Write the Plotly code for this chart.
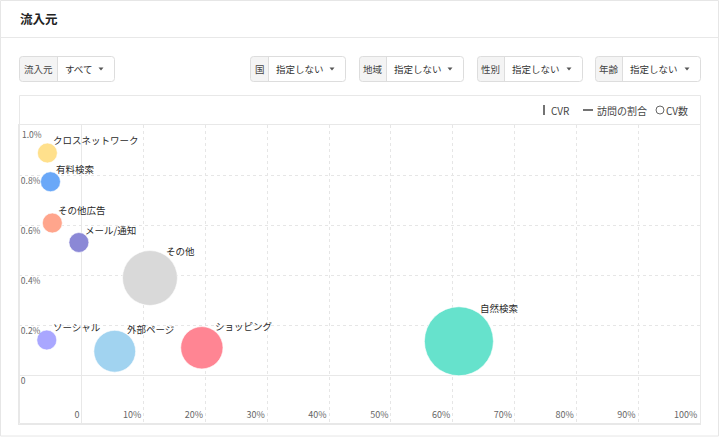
import plotly.graph_objects as go
import math

# ---- data ----
sources = ["クロスネットワーク", "有料検索", "その他広告", "メール/通知", "その他",
           "ソーシャル", "外部ページ", "ショッピング", "自然検索"]
visit_share = [-5.6, -5.1, -4.8, -0.5, 11.0, -5.7, 5.3, 19.4, 61.0]   # 訪問の割合 (%)
cvr = [0.888, 0.773, 0.608, 0.530, 0.388, 0.140, 0.095, 0.109, 0.135]  # CVR (%)
cv_count = [100, 100, 100, 100, 760, 100, 440, 450, 1200]              # CV数
colors = ["#FFE08C", "#6AA8F8", "#FFA58C", "#8B88D6", "#D9D9D9",
          "#A9A7FF", "#A1D3F0", "#FF8593", "#66E2CC"]

x_ticks = [0, 10, 20, 30, 40, 50, 60, 70, 80, 90, 100]
x_ticktext = ["0", "10%", "20%", "30%", "40%", "50%", "60%", "70%", "80%", "90%", "100%"]
y_ticks = [0, 0.2, 0.4, 0.6, 0.8]
y_ticktext = ["0", "0.2%", "0.4%", "0.6%", "0.8%"]
y_top_tick, y_top_text = 1.0, "1.0%"

filters = [("流入元", "すべて"), ("国", "指定しない"), ("地域", "指定しない"),
           ("性別", "指定しない"), ("年齢", "指定しない")]

# ---- layout geometry (pixels) ----
W, H = 720, 444
PL, PR, PT, PB = 19, 700, 125, 424
FONT = "Noto Sans CJK JP"

def px_x(p):
    return (p - PL) / (PR - PL)

def px_y(p):
    return (PB - p) / (PB - PT)

max_d = 69
sizeref = 2 * max(cv_count) / max_d ** 2
radii = [math.sqrt(v / 2 / sizeref) for v in cv_count]

fig = go.Figure()
fig.add_trace(go.Scatter(
    x=visit_share, y=cvr, mode="markers",
    marker=dict(size=cv_count, sizemode="area", sizeref=sizeref,
                color=colors, opacity=1,
                line=dict(width=1, color="rgba(255,255,255,0.6)")),
    hovertext=sources, hoverinfo="text", showlegend=False,
))

annotations = []
for s, xv, yv, r in zip(sources, visit_share, cvr, radii):
    annotations.append(dict(
        x=xv, y=yv, xref="x", yref="y", text=s, showarrow=False,
        xanchor="left", yanchor="middle", xshift=0.6 * r - 2, yshift=0.83 * r + 4.7,
        font=dict(size=9.5, color="#2A2A2A", family=FONT)))

# top y tick label (placed inside the plot, under its grid line)
annotations.append(dict(x=0, y=y_top_tick, xref="paper", yref="y", text=y_top_text,
                        showarrow=False, xanchor="left", yanchor="top", xshift=1, yshift=-1,
                        font=dict(size=8.5, color="#666666", family=FONT)))

shapes = []
# card
shapes.append(dict(type="rect", xref="paper", yref="paper",
                   x0=px_x(0.5), x1=px_x(718.5), y0=px_y(436), y1=px_y(0.5),
                   line=dict(color="#E6E6E6", width=1), fillcolor="rgba(0,0,0,0)", layer="below"))
shapes.append(dict(type="line", xref="paper", yref="paper",
                   x0=px_x(0.5), x1=px_x(718.5), y0=px_y(37.5), y1=px_y(37.5),
                   line=dict(color="#E8E8E8", width=1)))
# chart box
shapes.append(dict(type="rect", xref="paper", yref="paper",
                   x0=px_x(19.5), x1=px_x(700.5), y0=px_y(423.5), y1=px_y(95.5),
                   line=dict(color="#E8E8E8", width=1), fillcolor="rgba(0,0,0,0)", layer="below"))

annotations.append(dict(xref="paper", yref="paper", x=px_x(18), y=px_y(18.5),
                        text="<b>流入元</b>", showarrow=False, xanchor="left", yanchor="middle",
                        font=dict(size=12.5, color="#222222", family=FONT)))

def rounded(x0, y0, x1, y1, r=3):
    X = lambda p: px_x(p)
    Y = lambda p: px_y(p)
    return (f"M {X(x0+r)},{Y(y0)} L {X(x1-r)},{Y(y0)} Q {X(x1)},{Y(y0)} {X(x1)},{Y(y0+r)} "
            f"L {X(x1)},{Y(y1-r)} Q {X(x1)},{Y(y1)} {X(x1-r)},{Y(y1)} "
            f"L {X(x0+r)},{Y(y1)} Q {X(x0)},{Y(y1)} {X(x0)},{Y(y1-r)} "
            f"L {X(x0)},{Y(y0+r)} Q {X(x0)},{Y(y0)} {X(x0+r)},{Y(y0)} Z")

def left_rounded(x0, y0, x1, y1, r=3):
    X = lambda p: px_x(p)
    Y = lambda p: px_y(p)
    return (f"M {X(x0+r)},{Y(y0)} L {X(x1)},{Y(y0)} L {X(x1)},{Y(y1)} "
            f"L {X(x0+r)},{Y(y1)} Q {X(x0)},{Y(y1)} {X(x0)},{Y(y1-r)} "
            f"L {X(x0)},{Y(y0+r)} Q {X(x0)},{Y(y0)} {X(x0+r)},{Y(y0)} Z")

box_pos = [(19.5, 57.5, 114.5), (250.5, 268.5, 345.5), (359.5, 386.5, 463.5),
           (477.5, 504.5, 582.5), (595.5, 622.5, 700.5)]
by0, by1 = 56.5, 81.5
for (lab, val), (x0, sep, x1) in zip(filters, box_pos):
    shapes.append(dict(type="path", xref="paper", yref="paper", path=left_rounded(x0, by0, sep, by1),
                       fillcolor="#F4F4F4", line=dict(width=0), layer="below"))
    shapes.append(dict(type="path", xref="paper", yref="paper", path=rounded(x0, by0, x1, by1),
                       fillcolor="rgba(0,0,0,0)", line=dict(color="#DDDDDD", width=1)))
    shapes.append(dict(type="line", xref="paper", yref="paper", x0=px_x(sep), x1=px_x(sep),
                       y0=px_y(by0), y1=px_y(by1), line=dict(color="#DDDDDD", width=1)))
    annotations.append(dict(xref="paper", yref="paper", x=px_x((x0 + sep) / 2), y=px_y(69),
                            text=lab, showarrow=False, xanchor="center", yanchor="middle",
                            font=dict(size=9.5, color="#444444", family=FONT)))
    annotations.append(dict(xref="paper", yref="paper", x=px_x(sep + 5), y=px_y(69),
                            text=val, showarrow=False, xanchor="left", yanchor="middle",
                            font=dict(size=9.5, color="#333333", family=FONT)))
    ax = x1 - 13.5
    shapes.append(dict(type="path", xref="paper", yref="paper",
                       path=f"M {px_x(ax-2.5)},{px_y(67.5)} L {px_x(ax+2.5)},{px_y(67.5)} L {px_x(ax)},{px_y(70.5)} Z",
                       fillcolor="#555555", line=dict(width=0)))

# legend (descriptive)
shapes.append(dict(type="line", xref="paper", yref="paper", x0=px_x(544), x1=px_x(544),
                   y0=px_y(105), y1=px_y(115), line=dict(color="#444444", width=1.5)))
annotations.append(dict(xref="paper", yref="paper", x=px_x(549), y=px_y(110), text="CVR",
                        showarrow=False, xanchor="left", yanchor="middle",
                        font=dict(size=10, color="#444444", family=FONT)))
shapes.append(dict(type="line", xref="paper", yref="paper", x0=px_x(583), x1=px_x(593),
                   y0=px_y(110), y1=px_y(110), line=dict(color="#444444", width=1.5)))
annotations.append(dict(xref="paper", yref="paper", x=px_x(595), y=px_y(110), text="訪問の割合",
                        showarrow=False, xanchor="left", yanchor="middle",
                        font=dict(size=10, color="#444444", family=FONT)))
shapes.append(dict(type="circle", xref="paper", yref="paper", x0=px_x(656), x1=px_x(664),
                   y0=px_y(114), y1=px_y(106), line=dict(color="#666666", width=1)))
annotations.append(dict(xref="paper", yref="paper", x=px_x(664), y=px_y(110), text="CV数",
                        showarrow=False, xanchor="left", yanchor="middle",
                        font=dict(size=10, color="#444444", family=FONT)))

x_min = -(82 - PL) / ((PR - 82) / 100)
y_min = -(PB - 375) / ((375 - PT) / 1.0)

fig.update_layout(
    width=W, height=H, autosize=False,
    margin=dict(l=PL, r=W - PR, t=PT, b=H - PB, pad=0),
    paper_bgcolor="white", plot_bgcolor="white",
    font=dict(family=FONT, size=11, color="#333333"),
    xaxis=dict(range=[x_min, 100.02], tickvals=x_ticks, ticktext=x_ticktext,
               ticklabelposition="inside left", ticks="", ticklabelshift=-2,
               showgrid=True, gridcolor="#E6E6E6", griddash="dot", gridwidth=1,
               zeroline=True, zerolinecolor="#E8E8E8", zerolinewidth=1,
               showline=True, linecolor="#E8E8E8", mirror=True,
               tickfont=dict(size=9, color="#666666"), fixedrange=True),
    yaxis=dict(range=[y_min, 1.0], tickvals=y_ticks, ticktext=y_ticktext,
               ticklabelposition="inside bottom", ticks="",
               showgrid=True, gridcolor="#E6E6E6", griddash="dot", gridwidth=1,
               zeroline=True, zerolinecolor="#E8E8E8", zerolinewidth=1,
               showline=True, linecolor="#E8E8E8", mirror=True,
               tickfont=dict(size=8.5, color="#666666"), fixedrange=True),
    shapes=shapes, annotations=annotations,
    hovermode="closest",
)

fig.write_html("out.html", config={"displayModeBar": False})
